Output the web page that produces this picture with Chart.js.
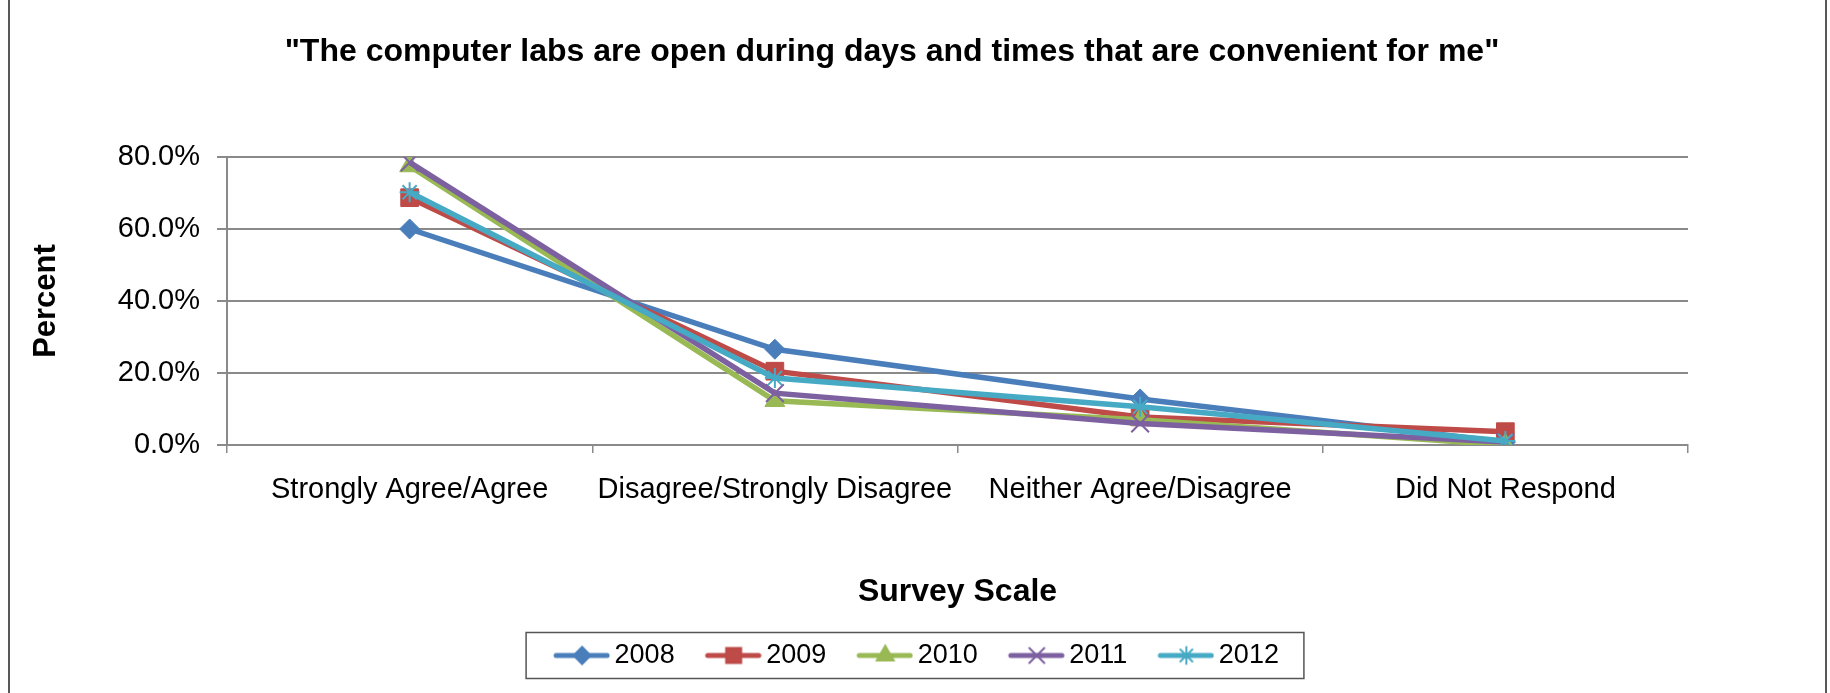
<!DOCTYPE html>
<html>
<head>
<meta charset="utf-8">
<script src="https://cdn.jsdelivr.net/npm/chart.js@4.4.0/dist/chart.umd.min.js"></script>
<style>
html, body { margin: 0; padding: 0; background: #fff; }
#wrap { width: 1830px; height: 693px; }
</style>
</head>
<body>
<div id="wrap"><canvas id="chart" width="1830" height="693"></canvas></div>
<script>
// Chart data
const chartTitle = '"The computer labs are open during days and times that are convenient for me"';
const categories = ['Strongly Agree/Agree', 'Disagree/Strongly Disagree', 'Neither Agree/Disagree', 'Did Not Respond'];
const years = ['2008', '2009', '2010', '2011', '2012'];
const values2008 = [60.0, 26.6, 12.8, 0.8];
const values2009 = [68.7, 20.5, 7.8, 3.7];
const values2010 = [77.5, 12.3, 7.0, 0.0];
const values2011 = [78.5, 14.4, 6.0, 0.8];
const values2012 = [70.2, 18.6, 10.6, 1.1];
const yTickValues = [0, 20, 40, 60, 80];

// Styles
const FONT = '"Liberation Sans", Arial, sans-serif';
const gridColor = '#8a8a8a';
const colors = ['#4A7EBB', '#BE4B48', '#98B954', '#7D60A0', '#46AAC5'];
const pointStyles = ['rectRot', 'rect', 'triangle', 'crossRot', 'star'];
const pointRadii = [10, 12.5, 11.5, 12.5, 10];

const seriesValues = [values2008, values2009, values2010, values2011, values2012];

// Legend icon: line with marker
function makeIcon(i) {
    const c = document.createElement('canvas');
    c.width = 84;
    c.height = 28;
    const g = c.getContext('2d');
    g.strokeStyle = colors[i];
    g.lineWidth = 5;
    g.lineCap = 'round';
    g.beginPath();
    g.moveTo(30, 14);
    g.lineTo(81, 14);
    g.stroke();
    g.fillStyle = colors[i];
    g.lineWidth = 2;
    Chart.helpers.drawPoint(g, { pointStyle: pointStyles[i], radius: pointRadii[i] * 0.85, borderWidth: 2, rotation: 0 }, 56, 14);
    return c;
}
const icons = years.map((y, i) => makeIcon(i));

// Title, frame and legend box
const decor = {
    id: 'decor',
    beforeDraw(chart) {
        const ctx = chart.ctx;
        ctx.save();
        ctx.fillStyle = '#fff';
        ctx.fillRect(0, 0, chart.width, chart.height);
        ctx.restore();
    },
    afterDraw(chart) {
        const ctx = chart.ctx;
        ctx.save();
        ctx.strokeStyle = '#222';
        ctx.lineWidth = 1.5;
        ctx.beginPath();
        ctx.moveTo(9, 0);
        ctx.lineTo(9, chart.height);
        ctx.moveTo(1826, 0);
        ctx.lineTo(1826, chart.height);
        ctx.stroke();

        ctx.fillStyle = '#000';
        ctx.font = 'bold 32px ' + FONT;
        ctx.textAlign = 'center';
        ctx.textBaseline = 'middle';
        ctx.fillText(chartTitle, 892, 52);

        const boxes = chart.legend.legendHitBoxes;
        if (boxes && boxes.length) {
            const first = boxes[0];
            const last = boxes[boxes.length - 1];
            const cy = first.top + first.height / 2;
            const left = first.left - 9;
            const right = last.left + last.width + 25;
            ctx.strokeStyle = '#555';
            ctx.lineWidth = 1.5;
            ctx.strokeRect(left, cy - 23, right - left, 46);
        }
        ctx.restore();
    }
};

const datasets = years.map((y, i) => ({
    label: y,
    data: seriesValues[i],
    borderColor: colors[i],
    backgroundColor: colors[i],
    borderWidth: 5.5,
    pointStyle: pointStyles[i],
    pointRadius: pointRadii[i],
    pointBorderWidth: (pointStyles[i] === 'crossRot' || pointStyles[i] === 'star') ? 2 : 1,
    pointBorderColor: colors[i],
    pointBackgroundColor: colors[i],
    tension: 0,
    order: years.length - i
}));

new Chart(document.getElementById('chart'), {
    type: 'line',
    data: { labels: categories, datasets: datasets },
    plugins: [decor],
    options: {
        responsive: false,
        animation: false,
        devicePixelRatio: 1,
        layout: { padding: { left: 10, right: 26, top: 157, bottom: 14 } },
        plugins: {
            title: { display: false },
            tooltip: { enabled: false },
            legend: {
                position: 'bottom',
                labels: {
                    usePointStyle: true,
                    pointStyleWidth: 66,
                    color: '#000',
                    padding: 12,
                    font: { size: 27, family: FONT },
                    generateLabels: () => years.map((y, i) => ({
                        text: y,
                        pointStyle: icons[i],
                        fillStyle: colors[i],
                        strokeStyle: colors[i],
                        lineWidth: 0,
                        hidden: false,
                        datasetIndex: i,
                        fontColor: '#000'
                    }))
                }
            }
        },
        scales: {
            x: {
                offset: true,
                grid: { display: true, drawOnChartArea: false, drawTicks: true, tickLength: 8, offset: true, color: gridColor, lineWidth: 1.5 },
                border: { display: true, color: gridColor, width: 2 },
                ticks: { color: '#000', font: { size: 29, family: FONT }, padding: 20, maxRotation: 0, autoSkip: false },
                title: { display: true, text: 'Survey Scale', color: '#000', font: { size: 32, weight: 'bold', family: FONT }, padding: { top: 0, bottom: 19 } },
                afterFit: s => { s.height = 185; }
            },
            y: {
                min: 0,
                max: 80,
                afterBuildTicks: s => { s.ticks = yTickValues.map(v => ({ value: v })); },
                ticks: { color: '#000', font: { size: 29, family: FONT }, padding: 17, callback: v => v.toFixed(1) + '%' },
                grid: { color: gridColor, lineWidth: 2, tickLength: 10 },
                border: { color: gridColor, width: 2 },
                title: { display: true, text: 'Percent', color: '#000', font: { size: 31, weight: 'bold', family: FONT }, padding: { top: 18, bottom: 0 } },
                afterFit: s => { s.width = 217; }
            },
            yPad: {
                type: 'linear',
                position: 'right',
                display: true,
                grid: { display: false, drawTicks: false },
                border: { display: false },
                ticks: { display: false },
                afterFit: s => { s.width = 116; }
            }
        }
    }
});
</script>
</body>
</html>
